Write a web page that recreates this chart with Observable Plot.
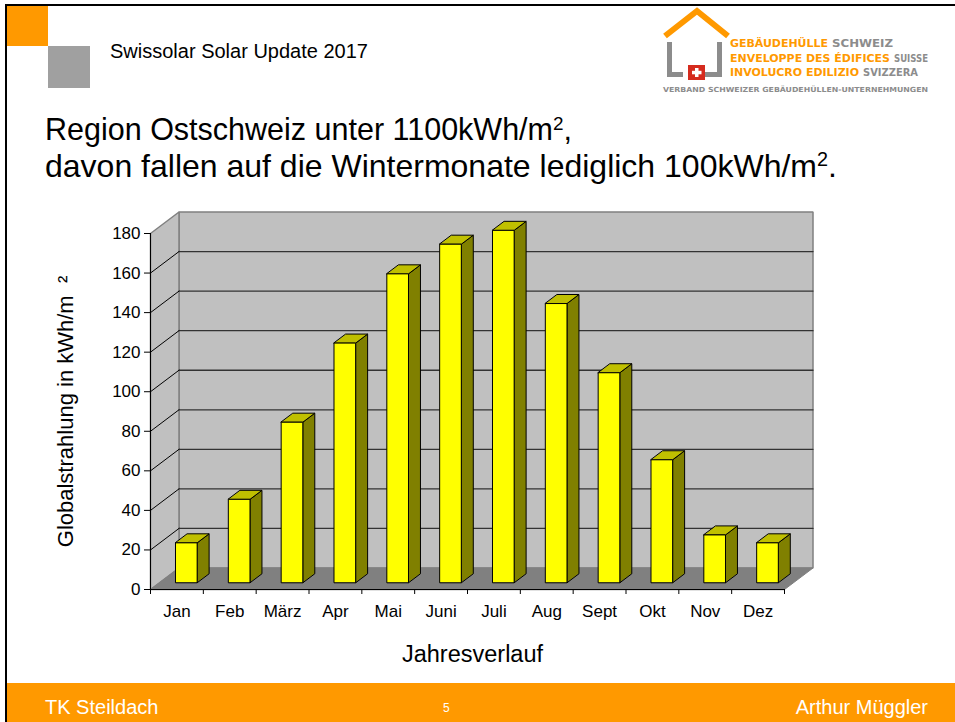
<!DOCTYPE html>
<html><head><meta charset="utf-8">
<script src="https://cdn.jsdelivr.net/npm/d3@7"></script>
<script src="https://cdn.jsdelivr.net/npm/@observablehq/plot@0.6"></script>
<style>
body{margin:0;background:#fff;}
#slide{position:relative;width:955px;height:722px;overflow:hidden;font-family:"Liberation Sans",Arial,sans-serif;background:#fff;color:#000;}
.abs{position:absolute;white-space:nowrap;}
sup{font-size:0.62em;vertical-align:0.55em;line-height:0;}
</style></head><body>
<div id="slide">
  <div class="abs" style="left:5px;top:4px;width:950px;height:2px;background:#000"></div>
  <div class="abs" style="left:5px;top:4px;width:2px;height:718px;background:#000"></div>
  <div class="abs" style="left:7px;top:6px;width:41px;height:40px;background:#ff9900"></div>
  <div class="abs" style="left:48px;top:46px;width:42px;height:42px;background:#a0a0a0"></div>
  <div class="abs" style="left:110px;top:41px;font-size:20px;line-height:20px;">Swissolar Solar Update 2017</div>

  <svg class="abs" style="left:650px;top:0px" width="305" height="100" viewBox="0 0 305 100">
    <polyline points="15,36 47,11 78,36" fill="none" stroke="#ff9900" stroke-width="6" stroke-linejoin="miter"/>
    <rect x="17" y="42" width="5" height="35" fill="#8c8c8c"/>
    <rect x="17" y="72" width="16" height="5" fill="#8c8c8c"/>
    <rect x="67" y="42" width="5" height="35" fill="#8c8c8c"/>
    <rect x="50" y="72" width="22" height="5" fill="#8c8c8c"/>
    <rect x="38" y="65" width="17" height="15" fill="#d52b1e"/>
    <rect x="45" y="68" width="3.5" height="9" fill="#fff"/>
    <rect x="42" y="70.8" width="9.5" height="3.5" fill="#fff"/>
    <g font-family="'DejaVu Sans Condensed','DejaVu Sans',sans-serif" font-weight="bold" font-size="10">
      <text x="80" y="47" textLength="98" lengthAdjust="spacingAndGlyphs" fill="#ff9900">GEBÄUDEHÜLLE</text>
      <text x="182" y="47" textLength="61" lengthAdjust="spacingAndGlyphs" fill="#8c8c8c">SCHWEIZ</text>
      <text x="80" y="62" textLength="160" lengthAdjust="spacingAndGlyphs" fill="#ff9900">ENVELOPPE DES ÉDIFICES</text>
      <text x="244" y="62" textLength="34" lengthAdjust="spacingAndGlyphs" fill="#8c8c8c">SUISSE</text>
      <text x="80" y="76" textLength="129" lengthAdjust="spacingAndGlyphs" fill="#ff9900">INVOLUCRO EDILIZIO</text>
      <text x="213" y="76" textLength="55" lengthAdjust="spacingAndGlyphs" fill="#8c8c8c">SVIZZERA</text>
      <text x="13" y="92" font-size="7" textLength="265" lengthAdjust="spacingAndGlyphs" fill="#8c8c8c">VERBAND SCHWEIZER GEBÄUDEHÜLLEN-UNTERNEHMUNGEN</text>
    </g>
  </svg>

  <div class="abs" style="left:45px;top:114px;font-size:30.5px;line-height:30.5px;">Region Ostschweiz unter 1100kWh/m<sup>2</sup>,</div>
  <div class="abs" style="left:45px;top:150px;font-size:32px;line-height:32px;">davon fallen auf die Wintermonate lediglich 100kWh/m<sup>2</sup>.</div>

  <div id="chart" class="abs" style="left:0px;top:200px;"></div>

  <div class="abs" style="left:7px;top:683px;width:948px;height:39px;background:#ff9900"></div>
  <div class="abs" style="left:45px;top:697px;font-size:20px;line-height:20px;color:#fff;">TK Steildach</div>
  <div class="abs" style="left:443px;top:702px;font-size:12px;line-height:12px;color:#fff;">5</div>
  <div class="abs" style="right:27px;top:697px;font-size:20px;line-height:20px;color:#fff;">Arthur Müggler</div>
</div>
<script>
// ---- data ----
const months = ["Jan", "Feb", "März", "Apr", "Mai", "Juni", "Juli", "Aug", "Sept", "Okt", "Nov", "Dez"];
const values = [20, 42, 81, 121, 156, 171, 178, 141, 106, 62, 24, 20];
const yTicks = [0, 20, 40, 60, 80, 100, 120, 140, 160, 180];
const yLabel = "Globalstrahlung in kWh/m\u00a0\u00a0²";
const xLabel = "Jahresverlauf";

// ---- 3D projection (depth offsets in data units) ----
const n = months.length, vmax = 180;
const DX = 28.5 / 52.83, DY = 21.5 / 1.978;
const P = (u, v, d) => ({x: u + d * DX, y: v + d * DY});
const poly = (k, pts) => pts.map(p => ({k, ...p}));

const backWall = poly("back", [P(0,0,1), P(0,vmax,1), P(n,vmax,1), P(n,0,1)]);
const sideWall = poly("side", [P(0,0,0), P(0,vmax,0), P(0,vmax,1), P(0,0,1)]);
const floor = poly("floor", [P(0,0,0), P(0,0,1), P(n,0,1), P(n,0,0)]);
const grid = yTicks.filter(t => t > 0 && t < vmax);
const backGrid = grid.flatMap(t => poly(t, [P(0,t,1), P(n,t,1)]));
const sideGrid = grid.flatMap(t => poly(t, [P(0,t,0), P(0,t,1)]));

const W = 0.205, D1 = 0.33, D2 = 0.75;
const fronts = values.flatMap((v, i) => { const u = i + 0.5; return poly(i, [P(u-W,0,D1), P(u-W,v,D1), P(u+W,v,D1), P(u+W,0,D1)]); });
const sides  = values.flatMap((v, i) => { const u = i + 0.5; return poly(i, [P(u+W,0,D1), P(u+W,v,D1), P(u+W,v,D2), P(u+W,0,D2)]); });
const tops   = values.flatMap((v, i) => { const u = i + 0.5; return poly(i, [P(u-W,v,D1), P(u+W,v,D1), P(u+W,v,D2), P(u-W,v,D2)]); });
const monthLabels = months.map((m, i) => ({m, x: i + 0.5, y: 0}));

const polyMark = (data, fill, stroke, sw) => Plot.line(data, {x: "x", y: "y", z: "k", curve: "linear-closed", fill, stroke, strokeWidth: sw, strokeLinejoin: "miter"});

const chart = Plot.plot({
  width: 955, height: 480,
  marginLeft: 150, marginRight: 171, marginTop: 33, marginBottom: 91,
  x: {type: "linear", domain: [0, n], label: null},
  y: {type: "linear", domain: [0, vmax], label: null},
  style: {fontFamily: "'Liberation Sans', Arial, sans-serif", fontSize: "17px", color: "#000", background: "transparent", overflow: "visible"},
  marks: [
    polyMark(backWall, "#c0c0c0", "#808080", 1.5),
    polyMark(sideWall, "#c0c0c0", "#808080", 1.5),
    Plot.line(backGrid, {x: "x", y: "y", z: "k", stroke: "#333", strokeWidth: 1.3}),
    Plot.line(sideGrid, {x: "x", y: "y", z: "k", stroke: "#000", strokeWidth: 1}),
    polyMark(floor, "#808080", "#808080", 1),
    polyMark(sides, "#808000", "#000", 1),
    polyMark(tops, "#c0c000", "#000", 1),
    polyMark(fronts, "#ffff00", "#000", 1),
    Plot.ruleX([0], {y1: 0, y2: vmax, stroke: "#000", strokeWidth: 1}),
    Plot.ruleY([0], {x1: 0, x2: n, stroke: "#000", strokeWidth: 1}),
    Plot.axisY({ticks: yTicks, tickSize: 6, tickPadding: 4, label: null, fontSize: 17, stroke: "#000"}),
    Plot.axisX({ticks: d3.range(n + 1), tickSize: 5, tickFormat: () => "", label: null, stroke: "#000"}),
    Plot.text(monthLabels, {x: "x", y: "y", text: "m", dy: 22, fontSize: 17}),
    Plot.text([yLabel], {frameAnchor: "left", textAnchor: "middle", rotate: -90, dx: -85, fontSize: 22}),
    Plot.text([xLabel], {frameAnchor: "bottom", dx: 5, dy: 72, fontSize: 23.5})
  ]
});
document.getElementById("chart").appendChild(chart);
</script>
</body></html>
